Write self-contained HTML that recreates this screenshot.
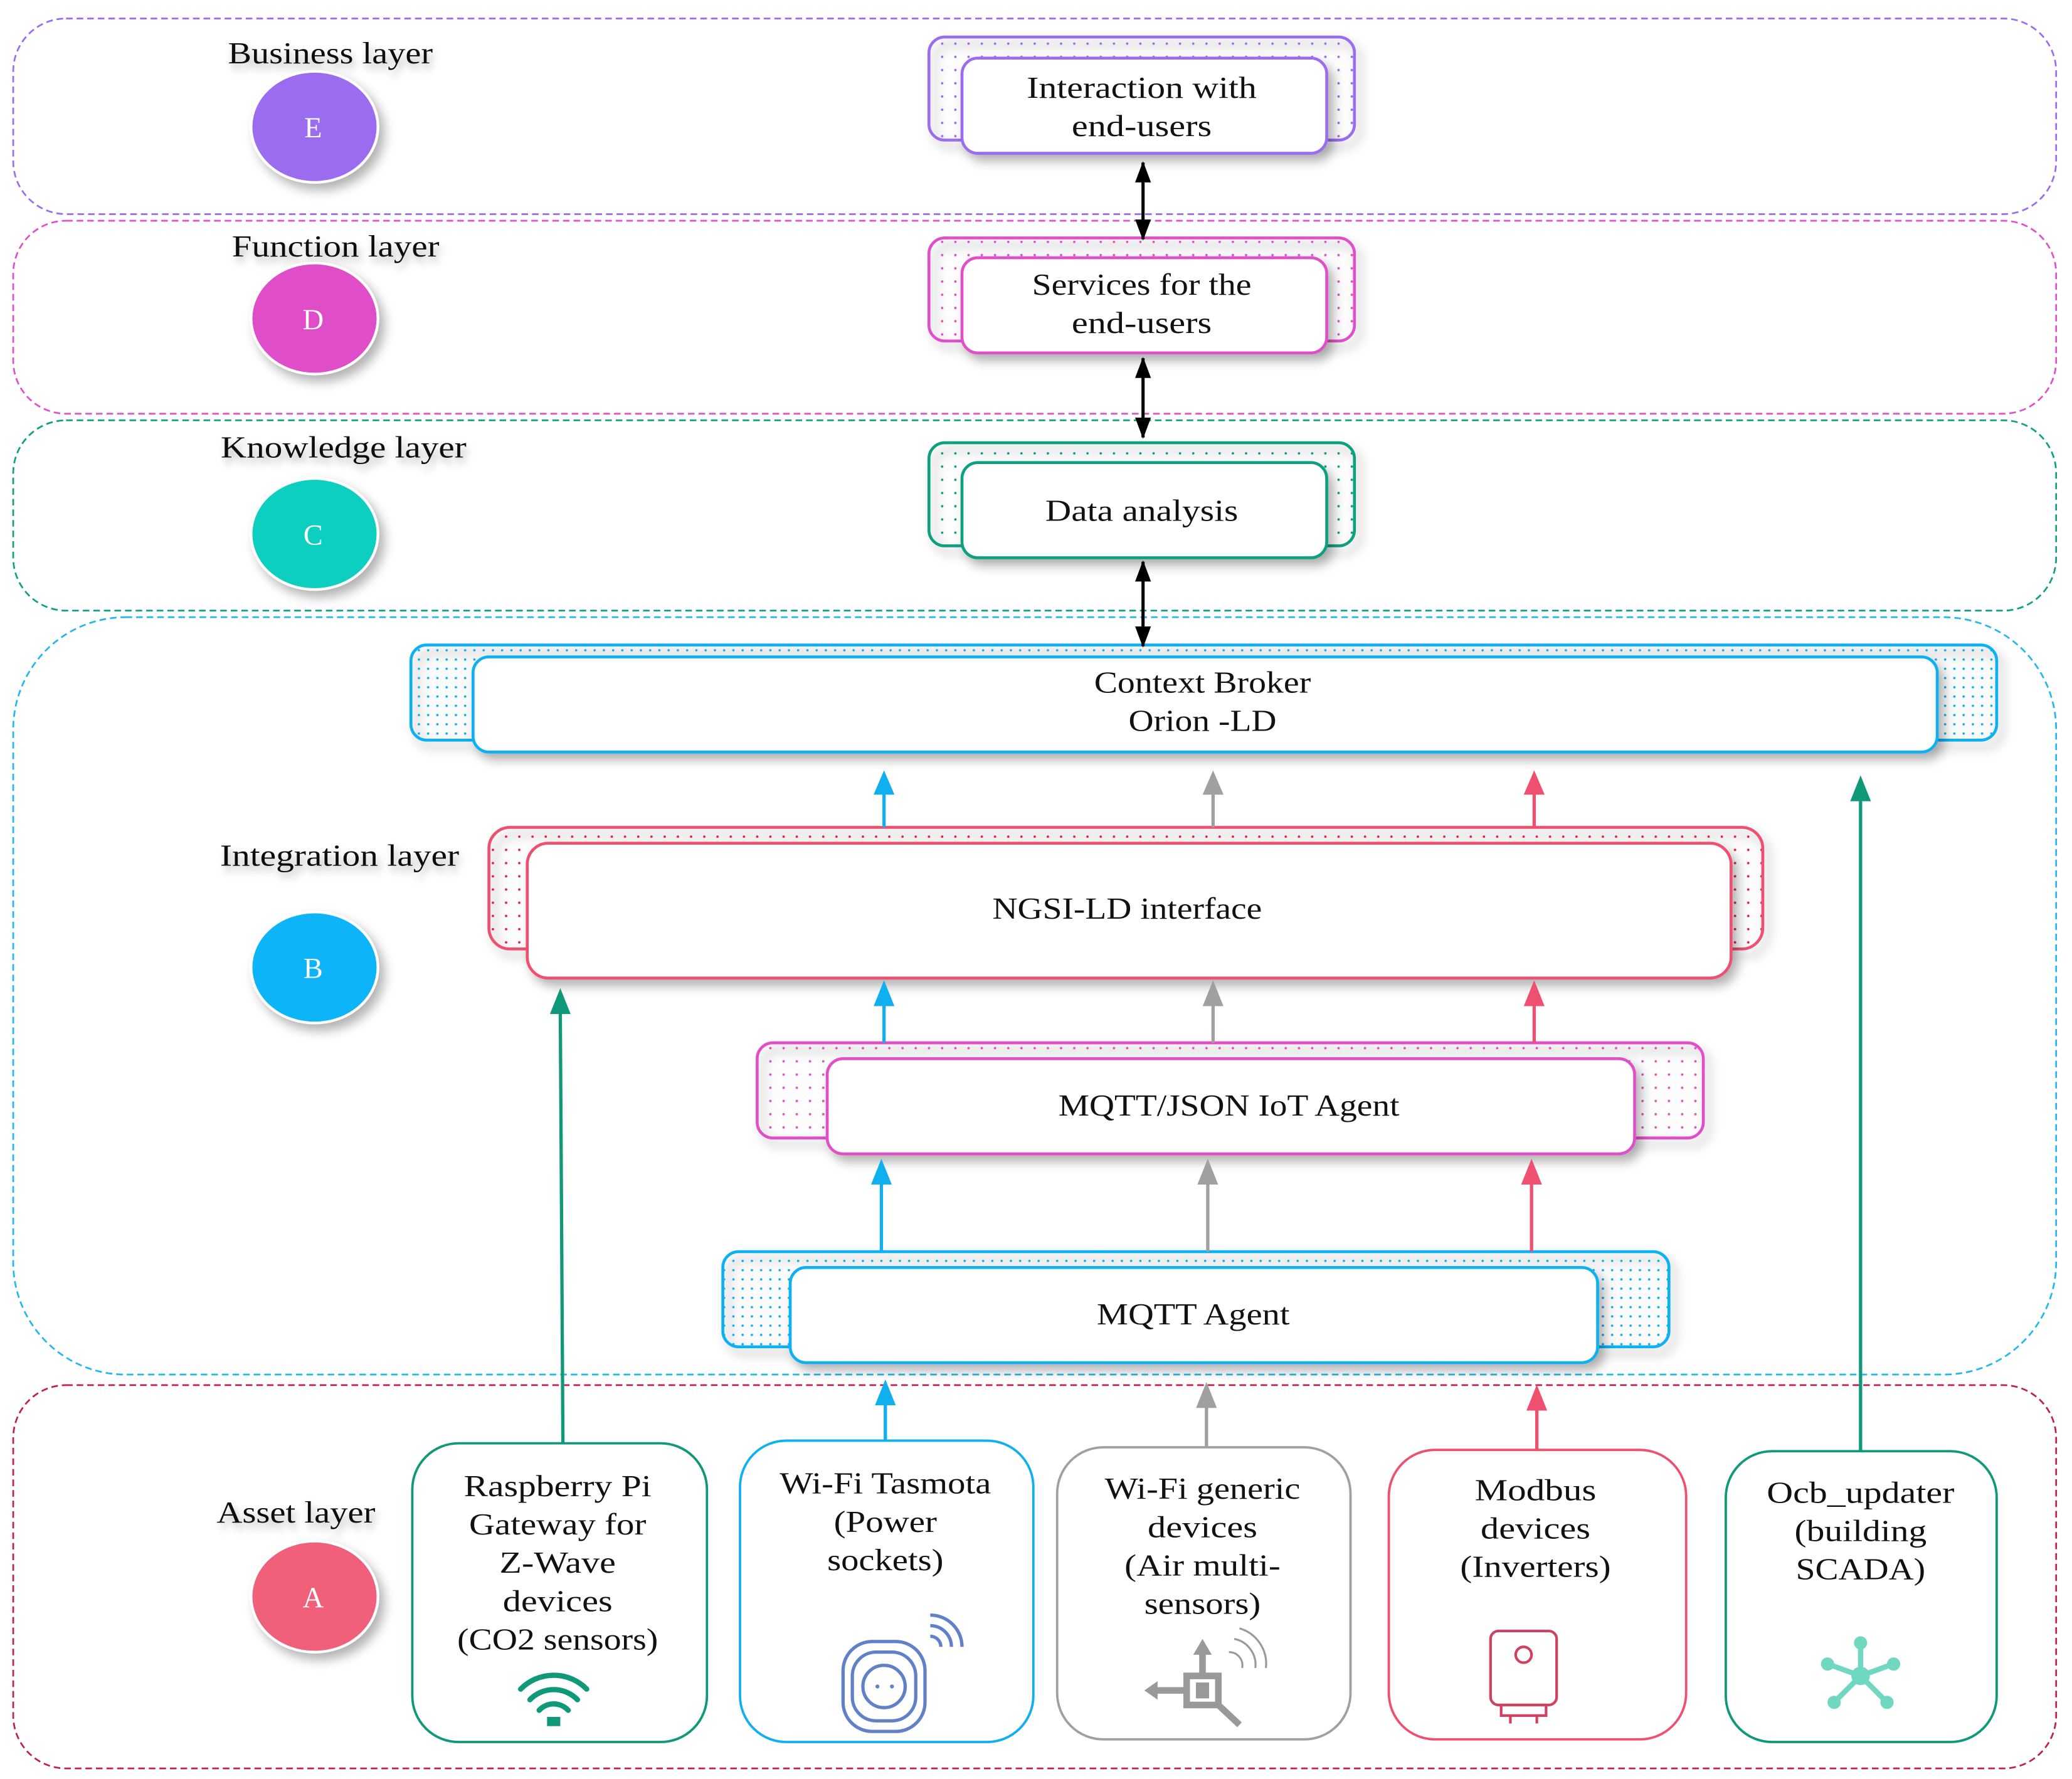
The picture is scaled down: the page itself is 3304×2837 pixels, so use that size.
<!DOCTYPE html>
<html><head><meta charset="utf-8"><style>
html,body{margin:0;padding:0;background:#fff;}
svg{display:block;}
text{font-family:"Liberation Serif",serif;fill:#111;}
</style></head><body>
<svg width="3304" height="2837" viewBox="0 0 1568 1346" preserveAspectRatio="none" xmlns="http://www.w3.org/2000/svg">
<defs>
<filter id="sh" x="-20%" y="-20%" width="150%" height="160%"><feDropShadow dx="4" dy="5" stdDeviation="4" flood-color="#000" flood-opacity="0.3"/></filter>
<filter id="ts" x="-10%" y="-30%" width="130%" height="200%"><feDropShadow dx="2" dy="4" stdDeviation="3" flood-color="#000" flood-opacity="0.3"/></filter>
<pattern id="pP" width="10" height="10" patternUnits="userSpaceOnUse"><circle cx="3" cy="3" r="0.9" fill="#9b6cf0"/></pattern>
<pattern id="pM" width="10" height="10" patternUnits="userSpaceOnUse"><circle cx="3" cy="3" r="0.9" fill="#e050c8"/></pattern>
<pattern id="pT" width="10" height="10" patternUnits="userSpaceOnUse"><circle cx="3" cy="3" r="0.9" fill="#10a080"/></pattern>
<pattern id="pB" width="7" height="7" patternUnits="userSpaceOnUse"><circle cx="2" cy="2" r="0.9" fill="#10b0f0"/></pattern>
<pattern id="pR" width="10" height="10" patternUnits="userSpaceOnUse"><circle cx="3" cy="3" r="0.9" fill="#e02040"/></pattern>
<marker id="ak" markerWidth="16" markerHeight="12" refX="15" refY="6" orient="auto-start-reverse" markerUnits="userSpaceOnUse" viewBox="0 0 16 12"><path d="M0,0 L16,6 L0,12 Z" fill="#000"/></marker>
</defs>

<g fill="none" stroke-width="1.3" stroke-dasharray="5,3">
<rect x="10" y="14" width="1546" height="148" rx="40" stroke="#9b6cf0"/>
<rect x="10" y="167" width="1546" height="146" rx="40" stroke="#e050c8"/>
<rect x="10" y="318" width="1546" height="144" rx="40" stroke="#10a080"/>
<rect x="10" y="467" width="1546" height="573" rx="85" stroke="#20b8f0"/>
<rect x="10" y="1048" width="1546" height="290" rx="40" stroke="#c0204a"/>
</g>

<g font-size="23" filter="url(#ts)">
<text x="250" y="48" text-anchor="middle" textLength="155" lengthAdjust="spacingAndGlyphs">Business layer</text>
<text x="254" y="194" text-anchor="middle" textLength="157" lengthAdjust="spacingAndGlyphs">Function layer</text>
<text x="260" y="346" text-anchor="middle" textLength="186" lengthAdjust="spacingAndGlyphs">Knowledge layer</text>
<text x="257" y="655" text-anchor="middle" textLength="181" lengthAdjust="spacingAndGlyphs">Integration layer</text>
<text x="224" y="1152" text-anchor="middle" textLength="120" lengthAdjust="spacingAndGlyphs">Asset layer</text>
</g>
<g stroke="#fff" stroke-width="2" filter="url(#sh)">
<ellipse cx="238" cy="96" rx="48" ry="42" fill="#9b6cf0"/>
<ellipse cx="238" cy="241" rx="48" ry="42" fill="#e04ec8"/>
<ellipse cx="238" cy="404" rx="48" ry="42" fill="#10cfc0"/>
<ellipse cx="238" cy="732" rx="48" ry="42" fill="#10b4f8"/>
<ellipse cx="238" cy="1208" rx="48" ry="42" fill="#f0607a"/>
</g>
<g font-size="22" text-anchor="middle">
<text x="237" y="104" style="fill:#fff">E</text>
<text x="237" y="249" style="fill:#fff">D</text>
<text x="237" y="412" style="fill:#fff">C</text>
<text x="237" y="740" style="fill:#fff">B</text>
<text x="237" y="1216" style="fill:#fff">A</text>
</g>

<g stroke-width="2.2">
<rect x="703" y="28" width="322" height="78" rx="12" fill="url(#pP)" stroke="#9b6cf0" filter="url(#sh)"/>
<rect x="728" y="44" width="276" height="72" rx="12" fill="#fff" stroke="#9b6cf0" filter="url(#sh)"/>
<rect x="703" y="180" width="322" height="78" rx="12" fill="url(#pM)" stroke="#e050c8" filter="url(#sh)"/>
<rect x="728" y="195" width="276" height="72" rx="12" fill="#fff" stroke="#e050c8" filter="url(#sh)"/>
<rect x="703" y="335" width="322" height="78" rx="12" fill="url(#pT)" stroke="#10a080" filter="url(#sh)"/>
<rect x="728" y="350" width="276" height="72" rx="12" fill="#fff" stroke="#10a080" filter="url(#sh)"/>
<rect x="311" y="488" width="1200" height="72" rx="12" fill="url(#pB)" stroke="#10b0f0" filter="url(#sh)"/>
<rect x="358" y="497" width="1108" height="72" rx="12" fill="#fff" stroke="#10b0f0" filter="url(#sh)"/>
<rect x="370" y="626" width="964" height="92" rx="16" fill="url(#pR)" stroke="#f05070" filter="url(#sh)"/>
<rect x="399" y="638" width="911" height="102" rx="16" fill="#fff" stroke="#f05070" filter="url(#sh)"/>
<rect x="573" y="789" width="716" height="72" rx="12" fill="url(#pM)" stroke="#e050c8" filter="url(#sh)"/>
<rect x="626" y="801" width="611" height="72" rx="12" fill="#fff" stroke="#e050c8" filter="url(#sh)"/>
<rect x="547" y="947" width="716" height="72" rx="12" fill="url(#pB)" stroke="#10b0f0" filter="url(#sh)"/>
<rect x="598" y="959" width="611" height="72" rx="12" fill="#fff" stroke="#10b0f0" filter="url(#sh)"/>
</g>
<g font-size="23" text-anchor="middle">
<text x="864" y="74" textLength="174" lengthAdjust="spacingAndGlyphs">Interaction with</text>
<text x="864" y="103" textLength="106" lengthAdjust="spacingAndGlyphs">end-users</text>
<text x="864" y="223" textLength="166" lengthAdjust="spacingAndGlyphs">Services for the</text>
<text x="864" y="252" textLength="106" lengthAdjust="spacingAndGlyphs">end-users</text>
<text x="864" y="394" textLength="146" lengthAdjust="spacingAndGlyphs">Data analysis</text>
<text x="910" y="524" textLength="164" lengthAdjust="spacingAndGlyphs">Context Broker</text>
<text x="910" y="553" textLength="112" lengthAdjust="spacingAndGlyphs">Orion -LD</text>
<text x="853" y="695" textLength="204" lengthAdjust="spacingAndGlyphs">NGSI-LD interface</text>
<text x="930" y="844" textLength="258" lengthAdjust="spacingAndGlyphs">MQTT/JSON IoT Agent</text>
<text x="903" y="1002" textLength="146" lengthAdjust="spacingAndGlyphs">MQTT Agent</text>
</g>

<g stroke="#000" stroke-width="2.4">
<line x1="865" y1="123" x2="865" y2="181" marker-start="url(#ak)" marker-end="url(#ak)"/>
<line x1="865" y1="271" x2="865" y2="331" marker-start="url(#ak)" marker-end="url(#ak)"/>
<line x1="865" y1="425" x2="865" y2="489" marker-start="url(#ak)" marker-end="url(#ak)"/>
</g>

<g stroke-width="2.5">
<g stroke="#10b0f0" fill="#10b0f0">
<line x1="669" y1="626" x2="669" y2="596"/><path d="M663,600 L669,586 L675,600Z"/>
<line x1="669" y1="789" x2="669" y2="758"/><path d="M663,760 L669,745 L675,760Z"/>
<line x1="667" y1="947" x2="667" y2="893"/><path d="M661,895 L667,880 L673,895Z"/>
<line x1="670" y1="1090" x2="670" y2="1060"/><path d="M664,1062 L670,1047 L676,1062Z"/>
</g>
<g stroke="#a0a0a0" fill="#a0a0a0">
<line x1="918" y1="626" x2="918" y2="596"/><path d="M912,600 L918,586 L924,600Z"/>
<line x1="918" y1="789" x2="918" y2="758"/><path d="M912,760 L918,745 L924,760Z"/>
<line x1="914" y1="947" x2="914" y2="893"/><path d="M908,895 L914,880 L920,895Z"/>
<line x1="913" y1="1095" x2="913" y2="1062"/><path d="M907,1064 L913,1049 L919,1064Z"/>
</g>
<g stroke="#f05070" fill="#f05070">
<line x1="1161" y1="626" x2="1161" y2="596"/><path d="M1155,600 L1161,586 L1167,600Z"/>
<line x1="1161" y1="789" x2="1161" y2="758"/><path d="M1155,760 L1161,745 L1167,760Z"/>
<line x1="1159" y1="947" x2="1159" y2="893"/><path d="M1153,895 L1159,880 L1165,895Z"/>
<line x1="1163" y1="1097" x2="1163" y2="1064"/><path d="M1157,1066 L1163,1051 L1169,1066Z"/>
</g>
<g stroke="#10987a" fill="#10987a">
<line x1="426" y1="1093" x2="424" y2="764"/><path d="M418,766 L424,751 L430,766Z"/>
<line x1="1408" y1="1098" x2="1408" y2="602"/><path d="M1402,605 L1408,590 L1414,605Z"/>
</g>
</g>

<g fill="#fff" stroke-width="1.8">
<rect x="312" y="1092" width="223" height="226" rx="35" stroke="#10987a"/>
<rect x="560" y="1090" width="222" height="228" rx="35" stroke="#10b0f0"/>
<rect x="800" y="1095" width="222" height="221" rx="35" stroke="#a0a0a0"/>
<rect x="1051" y="1097" width="225" height="219" rx="35" stroke="#f05070"/>
<rect x="1306" y="1098" width="205" height="220" rx="35" stroke="#10987a"/>
</g>
<g font-size="23" text-anchor="middle">
<text x="422" y="1132" textLength="142" lengthAdjust="spacingAndGlyphs">Raspberry Pi</text>
<text x="422" y="1161" textLength="134" lengthAdjust="spacingAndGlyphs">Gateway for</text>
<text x="422" y="1190" textLength="88" lengthAdjust="spacingAndGlyphs">Z-Wave</text>
<text x="422" y="1219" textLength="83" lengthAdjust="spacingAndGlyphs">devices</text>
<text x="422" y="1248" textLength="152" lengthAdjust="spacingAndGlyphs">(CO2 sensors)</text>
<text x="670" y="1130" textLength="160" lengthAdjust="spacingAndGlyphs">Wi-Fi Tasmota</text>
<text x="670" y="1159" textLength="78" lengthAdjust="spacingAndGlyphs">(Power</text>
<text x="670" y="1188" textLength="88" lengthAdjust="spacingAndGlyphs">sockets)</text>
<text x="910" y="1134" textLength="148" lengthAdjust="spacingAndGlyphs">Wi-Fi generic</text>
<text x="910" y="1163" textLength="83" lengthAdjust="spacingAndGlyphs">devices</text>
<text x="910" y="1192" textLength="118" lengthAdjust="spacingAndGlyphs">(Air multi-</text>
<text x="910" y="1221" textLength="88" lengthAdjust="spacingAndGlyphs">sensors)</text>
<text x="1162" y="1135" textLength="92" lengthAdjust="spacingAndGlyphs">Modbus</text>
<text x="1162" y="1164" textLength="83" lengthAdjust="spacingAndGlyphs">devices</text>
<text x="1162" y="1193" textLength="114" lengthAdjust="spacingAndGlyphs">(Inverters)</text>
<text x="1408" y="1137" textLength="142" lengthAdjust="spacingAndGlyphs">Ocb_updater</text>
<text x="1408" y="1166" textLength="100" lengthAdjust="spacingAndGlyphs">(building</text>
<text x="1408" y="1195" textLength="98" lengthAdjust="spacingAndGlyphs">SCADA)</text>
</g>

<g fill="none" stroke="#10987a" stroke-width="4" stroke-linecap="round">
<path d="M394,1278 A35,35 0 0 1 444,1278"/>
<path d="M401,1286 A25,25 0 0 1 437,1286"/>
<path d="M408,1294 A15,15 0 0 1 430,1294"/>
</g>
<rect x="414" y="1299" width="10" height="7" fill="#10987a"/>
<g fill="none" stroke="#6080c8" stroke-width="2.5">
<rect x="638" y="1242" width="62" height="68" rx="22"/>
<rect x="645" y="1250" width="48" height="52" rx="18"/>
<circle cx="669" cy="1276" r="16"/>
<path d="M704,1238 A8,8 0 0 1 712,1246 M704,1230 A16,16 0 0 1 720,1246 M704,1222 A24,24 0 0 1 728,1246"/>
</g>
<circle cx="664" cy="1276" r="1.5" fill="#6080c8"/><circle cx="675" cy="1276" r="1.5" fill="#6080c8"/>
<g fill="none" stroke="#999" stroke-width="5">
<rect x="898" y="1268" width="24" height="22"/>
<line x1="872" y1="1279" x2="898" y2="1279"/>
<line x1="910" y1="1268" x2="910" y2="1250"/>
<line x1="922" y1="1290" x2="938" y2="1305"/>
</g>
<g fill="#999"><path d="M903,1252 L910,1240 L917,1252Z"/><path d="M876,1272 L866,1279 L876,1286Z"/><rect x="905" y="1273" width="10" height="12"/></g>
<g fill="none" stroke="#999" stroke-width="1.5"><path d="M930,1250 A10,10 0 0 1 940,1262 M934,1240 A20,20 0 0 1 950,1262 M938,1232 A28,28 0 0 1 958,1262"/></g>
<g fill="none" stroke="#d04060" stroke-width="2">
<rect x="1128" y="1234" width="50" height="56" rx="6"/>
<circle cx="1153" cy="1252" r="6"/>
<rect x="1136" y="1290" width="34" height="8"/>
<line x1="1143" y1="1298" x2="1143" y2="1304"/><line x1="1163" y1="1298" x2="1163" y2="1304"/>
</g>
<g stroke="#70d8c0" stroke-width="4" fill="#70d8c0">
<line x1="1408" y1="1268" x2="1408" y2="1244"/><line x1="1408" y1="1268" x2="1386" y2="1260"/><line x1="1408" y1="1268" x2="1430" y2="1260"/>
<line x1="1408" y1="1268" x2="1390" y2="1286"/><line x1="1408" y1="1268" x2="1426" y2="1286"/>
<circle cx="1408" cy="1268" r="5"/><circle cx="1408" cy="1243" r="3"/><circle cx="1383" cy="1259" r="3"/><circle cx="1433" cy="1259" r="3"/><circle cx="1388" cy="1288" r="3"/><circle cx="1428" cy="1288" r="3"/>
</g>
</svg>
</body></html>
